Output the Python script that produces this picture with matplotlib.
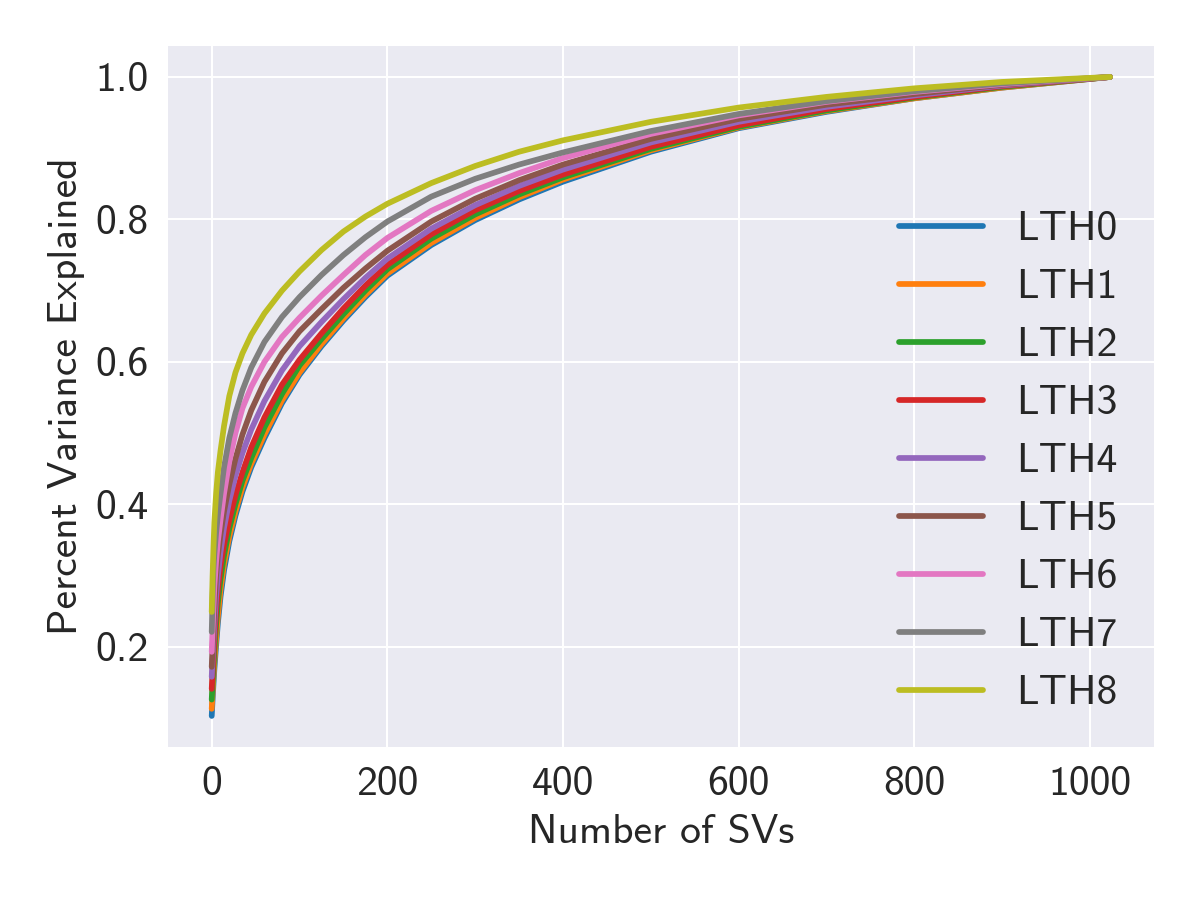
import matplotlib
matplotlib.use("Agg")
import matplotlib.pyplot as plt
import seaborn as sns

# number of singular values kept (shared x grid for all curves)
n_svs = [0, 1, 2, 3, 5, 7, 10, 14, 20, 27, 35, 45, 60, 80, 100, 125, 150, 175, 200,
         250, 300, 350, 400, 500, 600, 700, 800, 900, 1023]

# cumulative variance explained
lth0 = [0.103, 0.126, 0.148, 0.168, 0.202, 0.233, 0.270, 0.307, 0.348, 0.384, 0.418, 0.452,
        0.493, 0.542, 0.582, 0.622, 0.658, 0.691, 0.721, 0.764, 0.799, 0.828, 0.853, 0.895,
        0.928, 0.951, 0.970, 0.985, 1.0]
lth1 = [0.113, 0.136, 0.158, 0.178, 0.212, 0.243, 0.280, 0.316, 0.355, 0.390, 0.424, 0.457,
        0.498, 0.546, 0.585, 0.625, 0.661, 0.694, 0.724, 0.767, 0.802, 0.831, 0.856, 0.897,
        0.929, 0.952, 0.970, 0.985, 1.0]
lth2 = [0.126, 0.150, 0.172, 0.193, 0.232, 0.262, 0.295, 0.328, 0.366, 0.400, 0.433, 0.465,
        0.508, 0.555, 0.595, 0.632, 0.667, 0.700, 0.730, 0.773, 0.807, 0.835, 0.859, 0.899,
        0.930, 0.953, 0.971, 0.986, 1.0]
lth3 = [0.141, 0.165, 0.188, 0.210, 0.250, 0.280, 0.313, 0.343, 0.378, 0.413, 0.445, 0.480,
        0.522, 0.568, 0.603, 0.640, 0.675, 0.707, 0.736, 0.779, 0.813, 0.840, 0.863, 0.902,
        0.932, 0.955, 0.972, 0.987, 1.0]
lth4 = [0.158, 0.183, 0.207, 0.230, 0.270, 0.300, 0.333, 0.367, 0.405, 0.440, 0.472, 0.505,
        0.545, 0.588, 0.622, 0.656, 0.688, 0.718, 0.745, 0.787, 0.820, 0.847, 0.870, 0.908,
        0.937, 0.958, 0.974, 0.988, 1.0]
lth5 = [0.172, 0.200, 0.228, 0.255, 0.300, 0.328, 0.358, 0.390, 0.428, 0.464, 0.498, 0.532,
        0.572, 0.612, 0.643, 0.674, 0.704, 0.731, 0.756, 0.797, 0.829, 0.855, 0.877, 0.913,
        0.941, 0.961, 0.976, 0.989, 1.0]
lth6 = [0.193, 0.225, 0.255, 0.285, 0.320, 0.348, 0.378, 0.415, 0.460, 0.500, 0.535, 0.565,
        0.600, 0.635, 0.662, 0.693, 0.722, 0.750, 0.774, 0.812, 0.841, 0.865, 0.886, 0.920,
        0.946, 0.965, 0.979, 0.990, 1.0]
lth7 = [0.221, 0.270, 0.310, 0.330, 0.360, 0.385, 0.415, 0.452, 0.493, 0.528, 0.560, 0.592,
        0.628, 0.663, 0.691, 0.722, 0.750, 0.775, 0.797, 0.832, 0.857, 0.877, 0.894, 0.924,
        0.948, 0.966, 0.980, 0.991, 1.0]
lth8 = [0.249, 0.300, 0.340, 0.375, 0.415, 0.445, 0.475, 0.510, 0.552, 0.585, 0.612, 0.638,
        0.668, 0.700, 0.727, 0.757, 0.783, 0.804, 0.822, 0.851, 0.875, 0.895, 0.911, 0.937,
        0.957, 0.972, 0.984, 0.993, 1.0]

curves = [lth0, lth1, lth2, lth3, lth4, lth5, lth6, lth7, lth8]
labels = ["LTH%d" % i for i in range(len(curves))]

sns.set_style("darkgrid")
plt.rcParams['font.family'] = ['cmss10', 'DejaVu Sans']
plt.rcParams['axes.unicode_minus'] = False

fig, ax = plt.subplots(figsize=(6.4, 4.8), dpi=187.5)
for lab, vals in zip(labels, curves):
    ax.plot(n_svs, vals, linewidth=2.2, label=lab, solid_capstyle='round')

ax.set_xlabel("Number of SVs", fontsize=16)
ax.set_ylabel("Percent Variance Explained", fontsize=16)
ax.tick_params(labelsize=16)
ax.set_yticks([0.2, 0.4, 0.6, 0.8, 1.0])
ax.legend(loc='center right', bbox_to_anchor=(1.0, 0.407), fontsize=16,
          frameon=False)

plt.subplots_adjust(left=0.139, right=0.9625, bottom=0.169, top=0.95)
plt.savefig("out.png")
